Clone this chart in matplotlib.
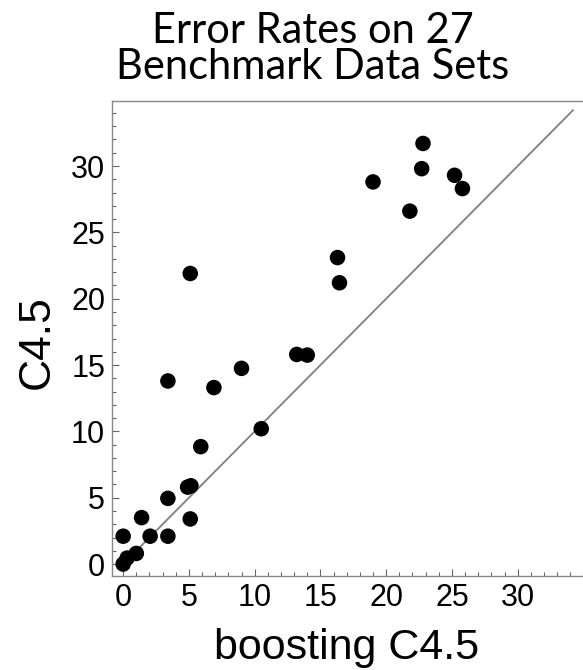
import matplotlib.pyplot as plt
from matplotlib.ticker import MultipleLocator

# error rates (%)
boost = [0.0, 0.3, 1.0, 0.0, 2.05, 3.4, 1.4, 3.4, 4.9, 5.15, 5.1, 5.9,
         10.5, 3.4, 6.9, 9.0, 13.2, 14.0, 5.1, 16.3, 16.45, 19.0, 21.8,
         22.8, 22.7, 25.2, 25.8]
c45 = [0.0, 0.45, 0.8, 2.1, 2.1, 2.1, 3.5, 4.95, 5.8, 5.9, 3.4, 8.85,
       10.2, 13.8, 13.3, 14.75, 15.8, 15.75, 21.9, 23.1, 21.2, 28.8, 26.6,
       31.7, 29.8, 29.3, 28.3]
diag = [0, 34.2]
ticks = [0, 5, 10, 15, 20, 25, 30]

fig = plt.figure(figsize=(5.83, 6.70), dpi=100)
ax = fig.add_axes([112/583, 94/670, 478/583, 475/670])

ax.plot(diag, diag, color='#7f7f7f', lw=1.3, zorder=1)
ax.scatter(boost, c45, s=125, color='black', edgecolors='none', zorder=2)

ax.set_xlim(-0.85, 35.5)
ax.set_ylim(-0.9, 34.9)
ax.set_xticks(ticks)
ax.set_yticks(ticks)
ax.xaxis.set_minor_locator(MultipleLocator(1))
ax.yaxis.set_minor_locator(MultipleLocator(1))
ax.tick_params(which='both', direction='in', color='#666666', width=0.8,
               top=False, right=False)
ax.tick_params(which='major', length=5, labelsize=22, pad=5,
               labelfontfamily='Liberation Sans')
ax.tick_params(which='minor', length=3)
for s in ax.spines.values():
    s.set_color('#888888')
    s.set_linewidth(1.0)

ax.set_xlabel('boosting C4.5', fontsize=31, family='Liberation Sans')
ax.set_ylabel('C4.5', fontsize=32, family='Liberation Sans')
ax.xaxis.set_label_coords((347 - 112) / 478, -(659 - 576) / 475)
ax.yaxis.set_label_coords(-(112 - 37) / 478, (576 - 342) / 475)
ax.xaxis.label.set_va('baseline')
ax.yaxis.label.set_va('center')

fig.text(313/583, 1 - 12/670, 'Error Rates on 27\nBenchmark Data Sets',
         ha='center', va='top', fontsize=30, family='Lato',
         linespacing=0.93)

fig.savefig('out.png', dpi=100)
